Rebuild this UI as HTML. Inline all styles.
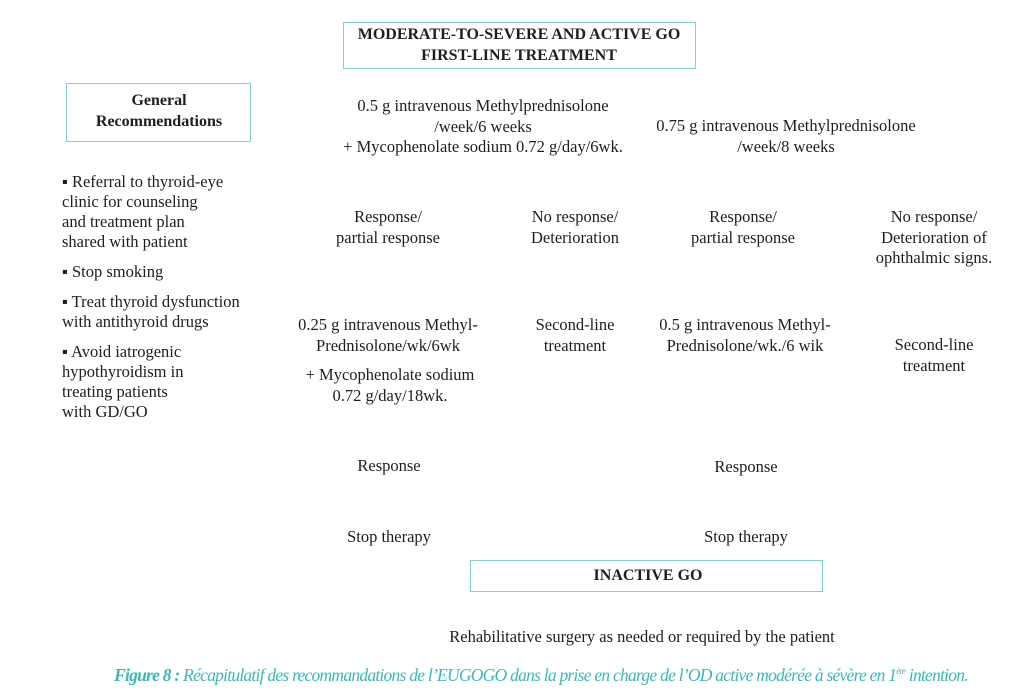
<!DOCTYPE html>
<html><head><meta charset="utf-8"><style>
html,body{margin:0;padding:0;background:#fff;}
body{width:1024px;height:697px;position:relative;overflow:hidden;font-family:"Liberation Serif",serif;font-size:16.5px;color:#1e1e1e;}
.c{position:absolute;transform:translateX(-50%);text-align:center;white-space:nowrap;line-height:20.5px;}
.box{position:absolute;border:1.5px solid #86cfcf;box-sizing:border-box;}
.l{position:absolute;left:62px;line-height:20px;white-space:nowrap;}
.bd{font-weight:bold;font-size:16px;}
.cap{position:absolute;left:0;width:1082px;top:665px;text-align:center;font-style:italic;color:#3fb5b5;font-size:17.5px;letter-spacing:-0.75px;font-family:"Liberation Serif",serif;}
</style></head><body>
<div class="box" style="left:343px;top:22px;width:353px;height:47px"></div>
<div class="c bd" style="left:519px;top:25px;">MODERATE-TO-SEVERE AND ACTIVE GO<br>FIRST-LINE TREATMENT</div>
<div class="box" style="left:66px;top:83px;width:185px;height:59px"></div>
<div class="c bd" style="left:159px;top:91px;">General<br>Recommendations</div>

<div class="c" style="left:483px;top:96px">0.5 g intravenous Methylprednisolone<br>/week/6 weeks<br>+ Mycophenolate sodium 0.72 g/day/6wk.</div>
<div class="c" style="left:786px;top:116px">0.75 g intravenous Methylprednisolone<br>/week/8 weeks</div>

<div class="c" style="left:388px;top:207px">Response/<br>partial response</div>
<div class="c" style="left:575px;top:207px">No response/<br>Deterioration</div>
<div class="c" style="left:743px;top:207px">Response/<br>partial response</div>
<div class="c" style="left:934px;top:207px">No response/<br>Deterioration of<br>ophthalmic signs.</div>

<div class="c" style="left:388px;top:315px">0.25 g intravenous Methyl-<br>Prednisolone/wk/6wk</div>
<div class="c" style="left:390px;top:365px">+ Mycophenolate sodium<br>0.72 g/day/18wk.</div>
<div class="c" style="left:575px;top:315px">Second-line<br>treatment</div>
<div class="c" style="left:745px;top:315px">0.5 g intravenous Methyl-<br>Prednisolone/wk./6 wik</div>
<div class="c" style="left:934px;top:335px">Second-line<br>treatment</div>

<div class="c" style="left:389px;top:456px">Response</div>
<div class="c" style="left:746px;top:457px">Response</div>
<div class="c" style="left:389px;top:527px">Stop therapy</div>
<div class="c" style="left:746px;top:527px">Stop therapy</div>

<div class="box" style="left:470px;top:560px;width:353px;height:32px"></div>
<div class="c bd" style="left:648px;top:566px;">INACTIVE GO</div>
<div class="c" style="left:642px;top:627px">Rehabilitative surgery as needed or required by the patient</div>

<div class="l" style="top:172px">▪ Referral to thyroid-eye<br>clinic for counseling<br>and treatment plan<br>shared with patient</div>
<div class="l" style="top:262px">▪ Stop smoking</div>
<div class="l" style="top:292px">▪ Treat thyroid dysfunction<br>with antithyroid drugs</div>
<div class="l" style="top:342px">▪ Avoid iatrogenic<br>hypothyroidism in<br>treating patients<br>with GD/GO</div>

<div class="cap"><b>Figure 8 :</b> Récapitulatif des recommandations de l’EUGOGO dans la prise en charge de l’OD active modérée à sévère en 1<sup style="font-size:9px">ère</sup> intention.</div>
</body></html>
